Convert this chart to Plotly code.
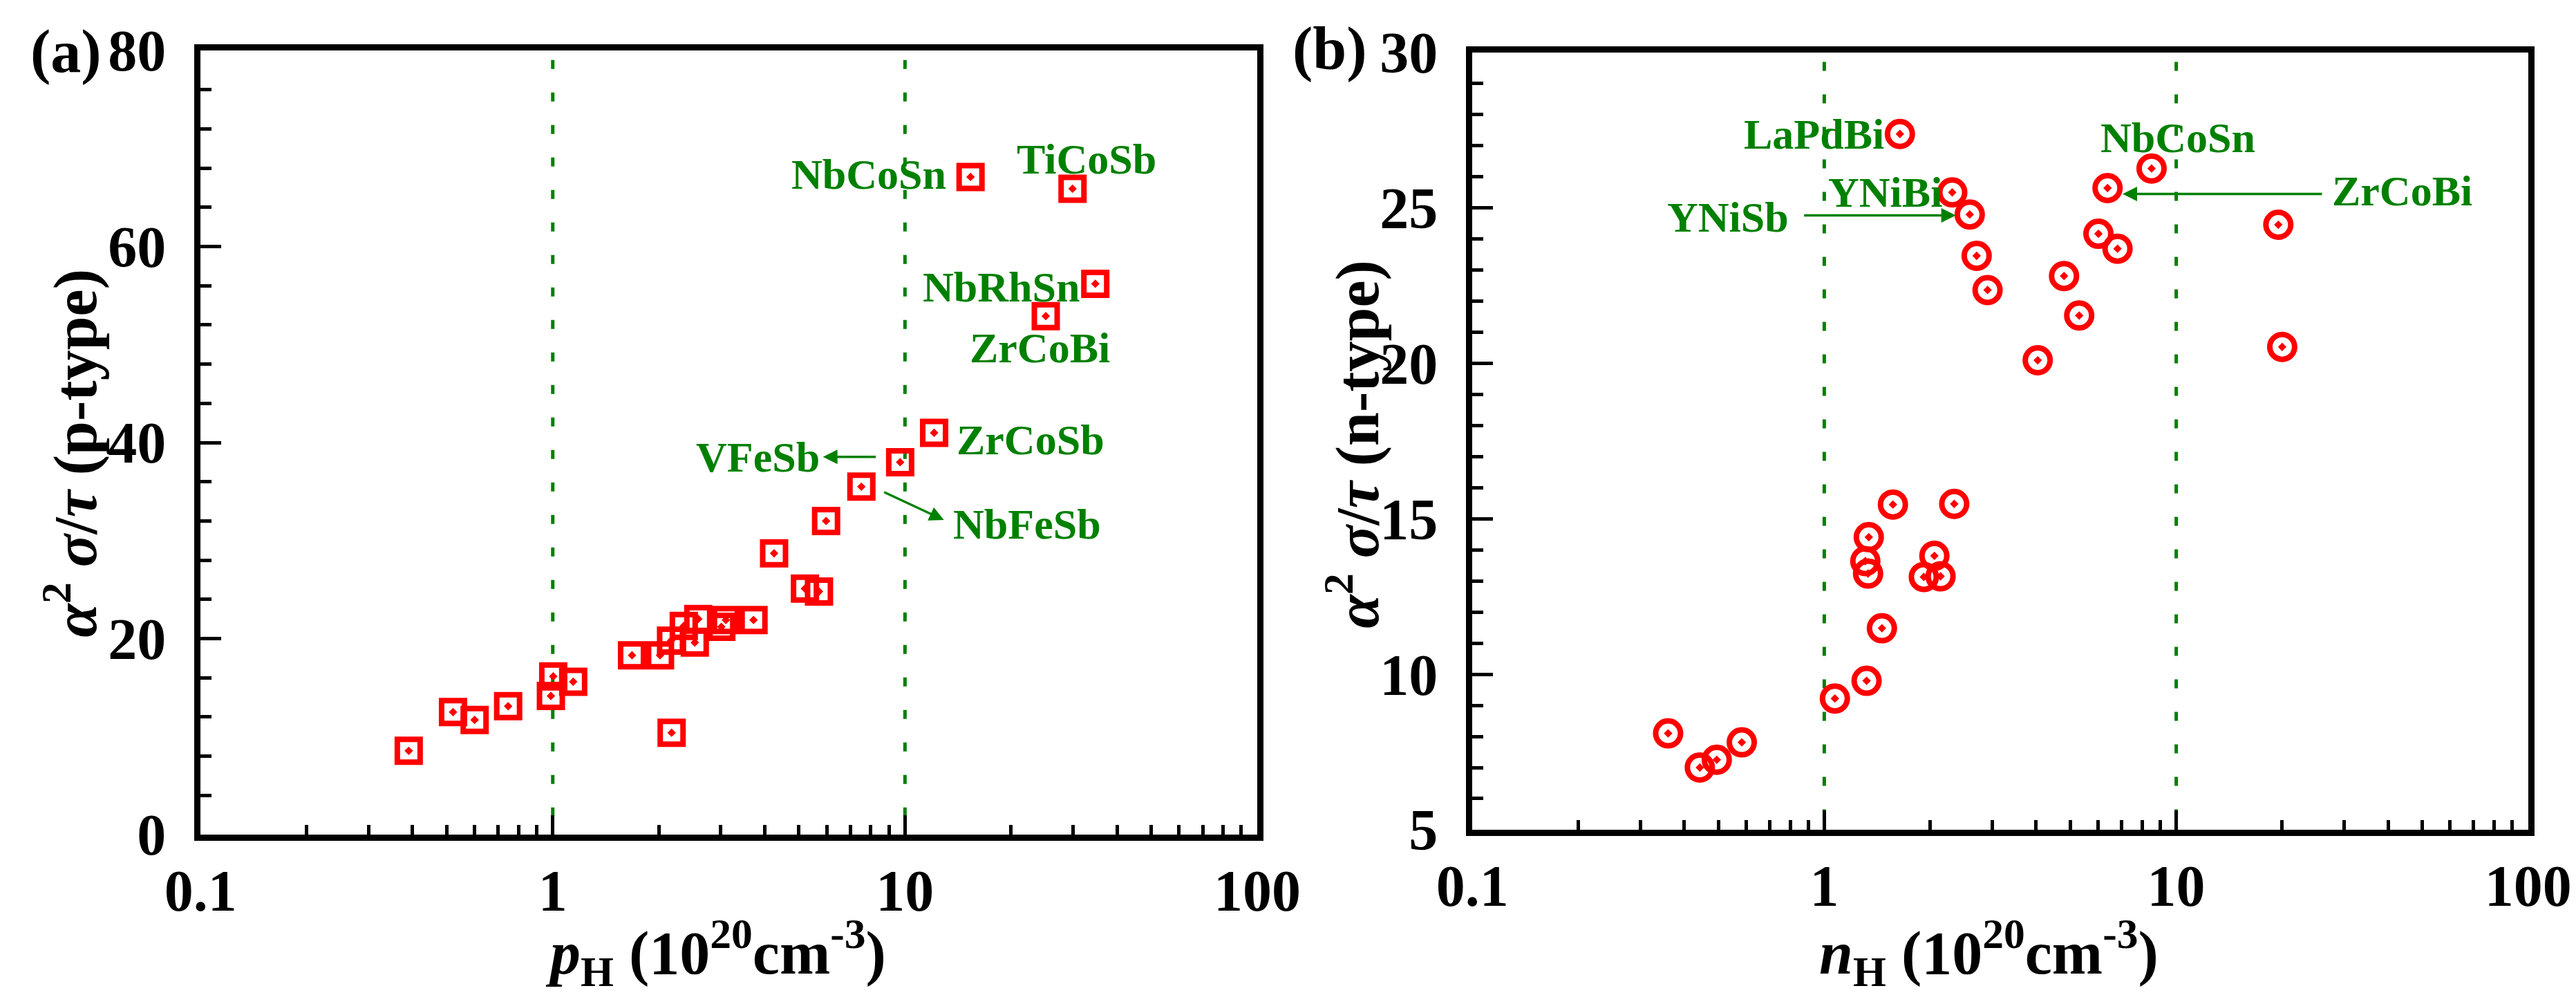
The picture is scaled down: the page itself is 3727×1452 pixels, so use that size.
import math

import plotly.graph_objects as go

# (a) p-type : Hall carrier concentration (1e20 cm^-3) vs alpha^2 sigma / tau
p_hall = [15.35, 29.9, 34.7, 25.1, 12.1, 9.69, 7.52, 5.97, 4.25, 5.2, 5.7,
          1.679, 2.016, 2.167, 2.531, 2.355, 2.589, 3.101, 3.715, 3.01, 2.175,
          1.003, 1.143, 0.988, 0.747, 0.60, 0.521, 0.390]
p_pf = [67.1, 65.9, 56.2, 52.9, 41.0, 38.0, 35.5, 32.0, 28.7, 25.1, 24.8,
        18.3, 18.3, 19.8, 19.6, 21.3, 22.0, 21.9, 21.9, 21.2, 10.4,
        16.15, 15.6, 14.15, 13.1, 11.7, 12.5, 8.55]

# (b) n-type
n_hall = [1.64, 8.51, 6.38, 2.31, 2.59, 19.5, 6.01, 6.81, 2.71, 4.80, 2.91,
          5.30, 20.0, 4.04, 1.567, 2.34, 1.338, 1.308, 1.332, 2.055, 1.918,
          2.14, 1.458, 1.319, 1.072, 0.360, 0.583, 0.495, 0.443]
n_pf = [27.38, 26.27, 25.64, 25.50, 24.79, 24.46, 24.17, 23.69, 23.46, 22.81, 22.36,
        21.54, 20.53, 20.10, 15.46, 15.48, 14.41, 13.64, 13.24, 13.81, 13.13,
        13.15, 11.48, 9.79, 9.22, 8.10, 7.81, 7.25, 7.00]

x_ticks = [0.1, 1, 10, 100]
x_ticktext = ["0.1", "1", "10", "100"]
ref_lines = [1, 10]

# labels: (text, x, y, xanchor)
p_labels = [("NbCoSn", 13.2, 67.4, "right"), ("TiCoSb", 32.8, 68.9, "center"),
            ("NbRhSn", 31.6, 55.9, "right"), ("ZrCoBi", 24.2, 49.7, "center"),
            ("ZrCoSb", 13.9, 40.3, "left"), ("VFeSb", 5.79, 38.5, "right"),
            ("NbFeSb", 13.6, 31.7, "left")]
n_labels = [("LaPdBi", 1.49, 27.38, "right"), ("NbCoSn", 10.1, 27.26, "center"),
            ("YNiBi", 1.49, 25.5, "center"), ("YNiSb", 0.80, 24.7, "right"),
            ("ZrCoBi", 27.5, 25.55, "left")]
# arrows: (head x, head y, ax px, ay px)
p_arrows = [(5.85, 38.54, 78, 0), (12.9, 32.1, -88, -41)]
n_arrows = [(2.364, 24.76, -221, 0), (7.04, 25.45, 290, 0)]

GREEN = "#008000"
RED = "#ff0000"
FONT = "Liberation Serif"

fig = go.Figure()

fig.add_trace(go.Scatter(
    x=p_hall, y=p_pf, mode="markers", xaxis="x", yaxis="y",
    marker=dict(symbol="square-open-dot", size=33, color=RED, line=dict(width=8, color=RED)),
    showlegend=False))
fig.add_trace(go.Scatter(
    x=n_hall, y=n_pf, mode="markers", xaxis="x2", yaxis="y2",
    marker=dict(symbol="circle-open-dot", size=36, color=RED, line=dict(width=8, color=RED)),
    showlegend=False))

tick_font = dict(family=FONT, size=84, color="black", weight="bold")


def x_axis(domain, anchor):
    return dict(
        domain=domain, anchor=anchor, type="log", range=[-1, 2],
        tickvals=x_ticks, ticktext=x_ticktext, tickfont=tick_font,
        ticks="inside", ticklen=28, tickwidth=5, tickcolor="black",
        minor=dict(ticks="inside", ticklen=14, tickwidth=5, tickcolor="black", dtick="D1"),
        showline=True, linewidth=9, linecolor="black", mirror=True,
        showgrid=False, zeroline=False, ticklabelstandoff=0)


def y_axis(domain, anchor, rng, dtick, minor):
    return dict(
        domain=domain, anchor=anchor, range=rng, dtick=dtick, tickfont=tick_font,
        ticks="inside", ticklen=30, tickwidth=5, tickcolor="black",
        minor=dict(ticks="inside", ticklen=16, tickwidth=5, tickcolor="black", dtick=minor),
        showline=True, linewidth=9, linecolor="black", mirror=True,
        showgrid=False, zeroline=False, ticklabelstandoff=24)


fig.update_layout(
    width=3727, height=1452,
    margin=dict(l=0, r=0, t=0, b=0, autoexpand=False),
    paper_bgcolor="white", plot_bgcolor="white",
    xaxis=x_axis([0.0757, 0.4859], "y"),
    yaxis=y_axis([0.1742, 0.9552], "x", [0, 80], 20, 4),
    xaxis2=x_axis([0.5694, 0.9793], "y2"),
    yaxis2=y_axis([0.1791, 0.9532], "x2", [5, 30], 5, 1),
)

# green dotted reference lines
for xr, yr in [("x", "y domain"), ("x2", "y2 domain")]:
    for xv in ref_lines:
        fig.add_shape(type="line", xref=xr, yref=yr, x0=xv, x1=xv, y0=0.988, y1=0,
                      line=dict(color=GREEN, width=5, dash="13px,34px"), layer="below")

# annotations on a log axis take log10 positions
ann_font = dict(family=FONT, size=62, color=GREEN, weight="bold")
for labels, xr, yr in [(p_labels, "x", "y"), (n_labels, "x2", "y2")]:
    for text, xv, yv, anchor in labels:
        fig.add_annotation(x=math.log10(xv), y=yv, xref=xr, yref=yr, text=text, showarrow=False,
                           xanchor=anchor, yanchor="middle", font=ann_font)

for arrows, xr, yr in [(p_arrows, "x", "y"), (n_arrows, "x2", "y2")]:
    for xv, yv, axp, ayp in arrows:
        fig.add_annotation(x=math.log10(xv), y=yv, xref=xr, yref=yr, text="", showarrow=True,
                           ax=axp, ay=ayp, arrowhead=2, arrowsize=1.2, arrowwidth=3.5,
                           arrowcolor=GREEN, standoff=0)

title_font = dict(family=FONT, size=88, color="black", weight="bold")


def paper_text(text, x, y, angle=0):
    fig.add_annotation(text=text, x=x, y=y, xref="paper", yref="paper", showarrow=False,
                       xanchor="center", yanchor="middle", textangle=angle, font=title_font)


# panel letters
paper_text("(a)", 0.0236, 0.954)
paper_text("(b)", 0.514, 0.957)

# axis titles
paper_text("<i>p</i><sub>H</sub> (10<sup>20</sup>cm<sup>-3</sup>)", 0.2756, 0.057)
paper_text("<i>n</i><sub>H</sub> (10<sup>20</sup>cm<sup>-3</sup>)", 0.770, 0.057)
paper_text("<i>α</i><sup>2</sup> <i>σ</i>/<i>τ</i> (p-type)", 0.0255, 0.554, -90)
paper_text("<i>α</i><sup>2</sup> <i>σ</i>/<i>τ</i> (n-type)", 0.523, 0.563, -90)

fig.write_html("out.html")
